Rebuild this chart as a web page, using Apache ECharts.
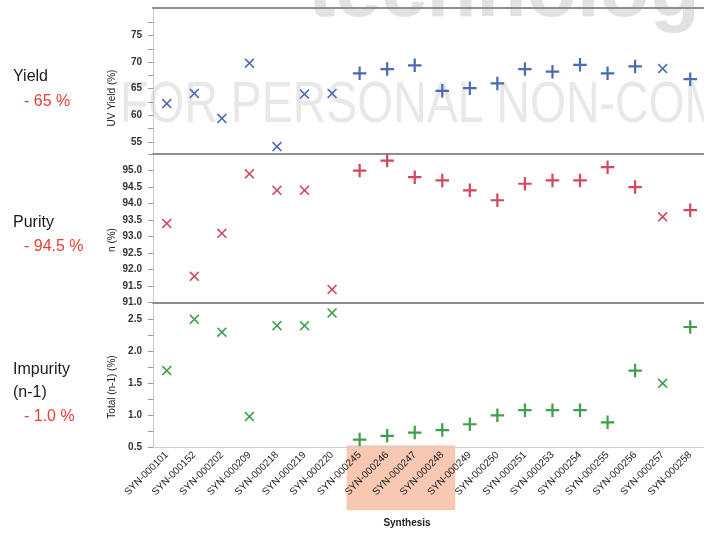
<!DOCTYPE html>
<html><head><meta charset="utf-8">
<script src="https://cdn.jsdelivr.net/npm/echarts@6/dist/echarts.min.js"></script>
<style>html,body{margin:0;padding:0;background:#fff}#c{width:704px;height:534px}</style>
</head><body><div id="c"></div>
<script>
const categories = ['SYN-000101','SYN-000152','SYN-000202','SYN-000209','SYN-000218','SYN-000219','SYN-000220','SYN-000245','SYN-000246','SYN-000247','SYN-000248','SYN-000249','SYN-000250','SYN-000251','SYN-000253','SYN-000254','SYN-000255','SYN-000256','SYN-000257','SYN-000258'];
const markerTypes = ['x','x','x','x','x','x','x','+','+','+','+','+','+','+','+','+','+','+','x','+'];
const yieldValues = [62.2,64.1,59.4,69.8,54.1,64.0,64.1,67.9,68.7,69.4,64.6,65.1,66.0,68.7,68.2,69.5,67.9,69.2,68.8,66.8];
const purityValues = [93.4,91.8,93.1,94.9,94.4,94.4,91.4,95.0,95.3,94.8,94.7,94.4,94.1,94.6,94.7,94.7,95.1,94.5,93.6,93.8];
const impurityValues = [1.70,2.50,2.30,0.98,2.40,2.40,2.60,0.62,0.68,0.73,0.77,0.86,1.00,1.08,1.08,1.08,0.89,1.70,1.50,2.38];
const yieldLabels = [55,60,65,70,75];
const yieldTicks = [55,57.5,60,62.5,65,67.5,70,72.5,75,77.5];
const purityLabels = [91.0,91.5,92.0,92.5,93.0,93.5,94.0,94.5,95.0];
const impurityLabels = [0.5,1.0,1.5,2.0,2.5];
const impurityTicks = [0.5,0.75,1.0,1.25,1.5,1.75,2.0,2.25,2.5];
const highlightFrom = 'SYN-000245';
const highlightTo = 'SYN-000248';
const sideTitles = [['Yield','- 65 %'],['Purity','- 94.5 %'],['Impurity','(n-1)','- 1.0 %']];

const FONT = "'Liberation Sans', Arial, sans-serif";
const PLUS = 'path://M5.6,0H7.8V5.6H13.4V7.8H7.8V13.4H5.6V7.8H0V5.6H5.6Z';
const CROSS = 'path://M0,1.13L1.13,0L5,3.87L8.87,0L10,1.13L6.13,5L10,8.87L8.87,10L5,6.13L1.13,10L0,8.87L3.87,5Z';
const colors = ['#4a6bb3', '#d2485f', '#3f9f4a'];

function mkData(vals){
  return categories.map((c,i)=>({
    value:[c, vals[i]],
    symbol: markerTypes[i]==='x' ? CROSS : PLUS,
    symbolSize: markerTypes[i]==='x' ? 10 : 13.5
  }));
}

const grids = [
  {left:153, top:8, width:560, height:146},
  {left:153, top:154, width:560, height:148.7},
  {left:153, top:302.7, width:560, height:144.6}
];

function xAx(gi, pos, lineColor, lineWidth, labels){
  return {
    type:'category', gridIndex:gi, data:categories, position:pos, boundaryGap:true,
    axisLine:{show:true, lineStyle:{color:lineColor, width:lineWidth}},
    axisTick:{show:false},
    axisLabel: labels ? {show:true, rotate:45, margin:6, fontSize:10, color:'#222', fontFamily:FONT} : {show:false},
    splitLine:{show:false}
  };
}
function yAx(gi, min, max, labels, ticks, dec){
  return {
    type:'value', gridIndex:gi, min:min, max:max,
    axisLine:{show:true, lineStyle:{color:'#c8c8c8', width:1}},
    axisTick:{show:true, length:5, lineStyle:{color:'#9a9a9a'}, customValues:ticks},
    axisLabel:{show:true, customValues:labels, margin:11, fontSize:10, fontWeight:'bold', color:'#333', fontFamily:FONT,
      formatter:(v)=>Number(v).toFixed(dec)},
    splitLine:{show:false}
  };
}

const chart = echarts.init(document.getElementById('c'), null, {renderer:'canvas'});
chart.setOption({
  animation:false,
  backgroundColor:'#fff',
  grid:grids,
  xAxis:[
    xAx(0,'bottom','#8e8e8e',2,false),
    xAx(1,'bottom','#8e8e8e',2,false),
    xAx(2,'bottom','#d0d0d0',1,true),
    xAx(0,'top','#8e8e8e',2,false)
  ],
  yAxis:[
    yAx(0,52.7,80.2,yieldLabels,yieldTicks,0),
    yAx(1,91,95.5,purityLabels,purityLabels.concat([95.5]),1),
    yAx(2,0.5,2.76,impurityLabels,impurityTicks,1)
  ],
  series:[
    {type:'scatter', xAxisIndex:0, yAxisIndex:0, data:mkData(yieldValues), itemStyle:{color:colors[0], opacity:1}, z:5},
    {type:'scatter', xAxisIndex:1, yAxisIndex:1, data:mkData(purityValues), itemStyle:{color:colors[1], opacity:1}, z:5},
    {type:'scatter', xAxisIndex:2, yAxisIndex:2, data:mkData(impurityValues), itemStyle:{color:colors[2], opacity:1}, z:5}
  ]
});

// decorations
const x0 = chart.convertToPixel({xAxisIndex:2}, highlightFrom);
const x1 = chart.convertToPixel({xAxisIndex:2}, highlightTo);
const band = 28;
const gBottom = 302.7 + 144.6;
const g = [];
g.push({type:'rect', z:-1, shape:{x:x0-band/2+1, y:gBottom-2, width:(x1-x0)+band-2, height:65}, style:{fill:'#f8c8b3'}});
g.push({type:'text', z:-1, x:308, y:-48, style:{text:'technology', font:'bold 82px '+FONT, fill:'#e2e2e2'}});
g.push({type:'text', z:-1, x:120, y:77, scaleX:0.8, style:{text:'FOR PERSONAL NON-COMMERCIAL USE', font:'58px '+FONT, fill:'#e8e8e8'}});
// axis names
const names = [['UV Yield (%)',98],['n (%)',240],['Total (n-1) (%)',387]];
names.forEach(n=>g.push({type:'text', x:112, y:n[1], rotation:Math.PI/2, style:{text:n[0], font:'10px '+FONT, fill:'#222', textAlign:'center', textVerticalAlign:'middle'}}));
g.push({type:'text', x:407, y:523, style:{text:'Synthesis', font:'bold 10px '+FONT, fill:'#222', textAlign:'center', textVerticalAlign:'middle'}});
// side titles
const sidePos = [[77,102],[223,247],[370,393,417]];
sideTitles.forEach((t,ti)=>{
  t.forEach((s,si)=>{
    const red = s.startsWith('-');
    g.push({type:'text', x: red?24:13, y:sidePos[ti][si], style:{text:s, font:'16px '+FONT, fill: red?'#e5402f':'#1a1a1a', textVerticalAlign:'middle'}});
  });
});
chart.setOption({graphic:g});
</script>
</body></html>
